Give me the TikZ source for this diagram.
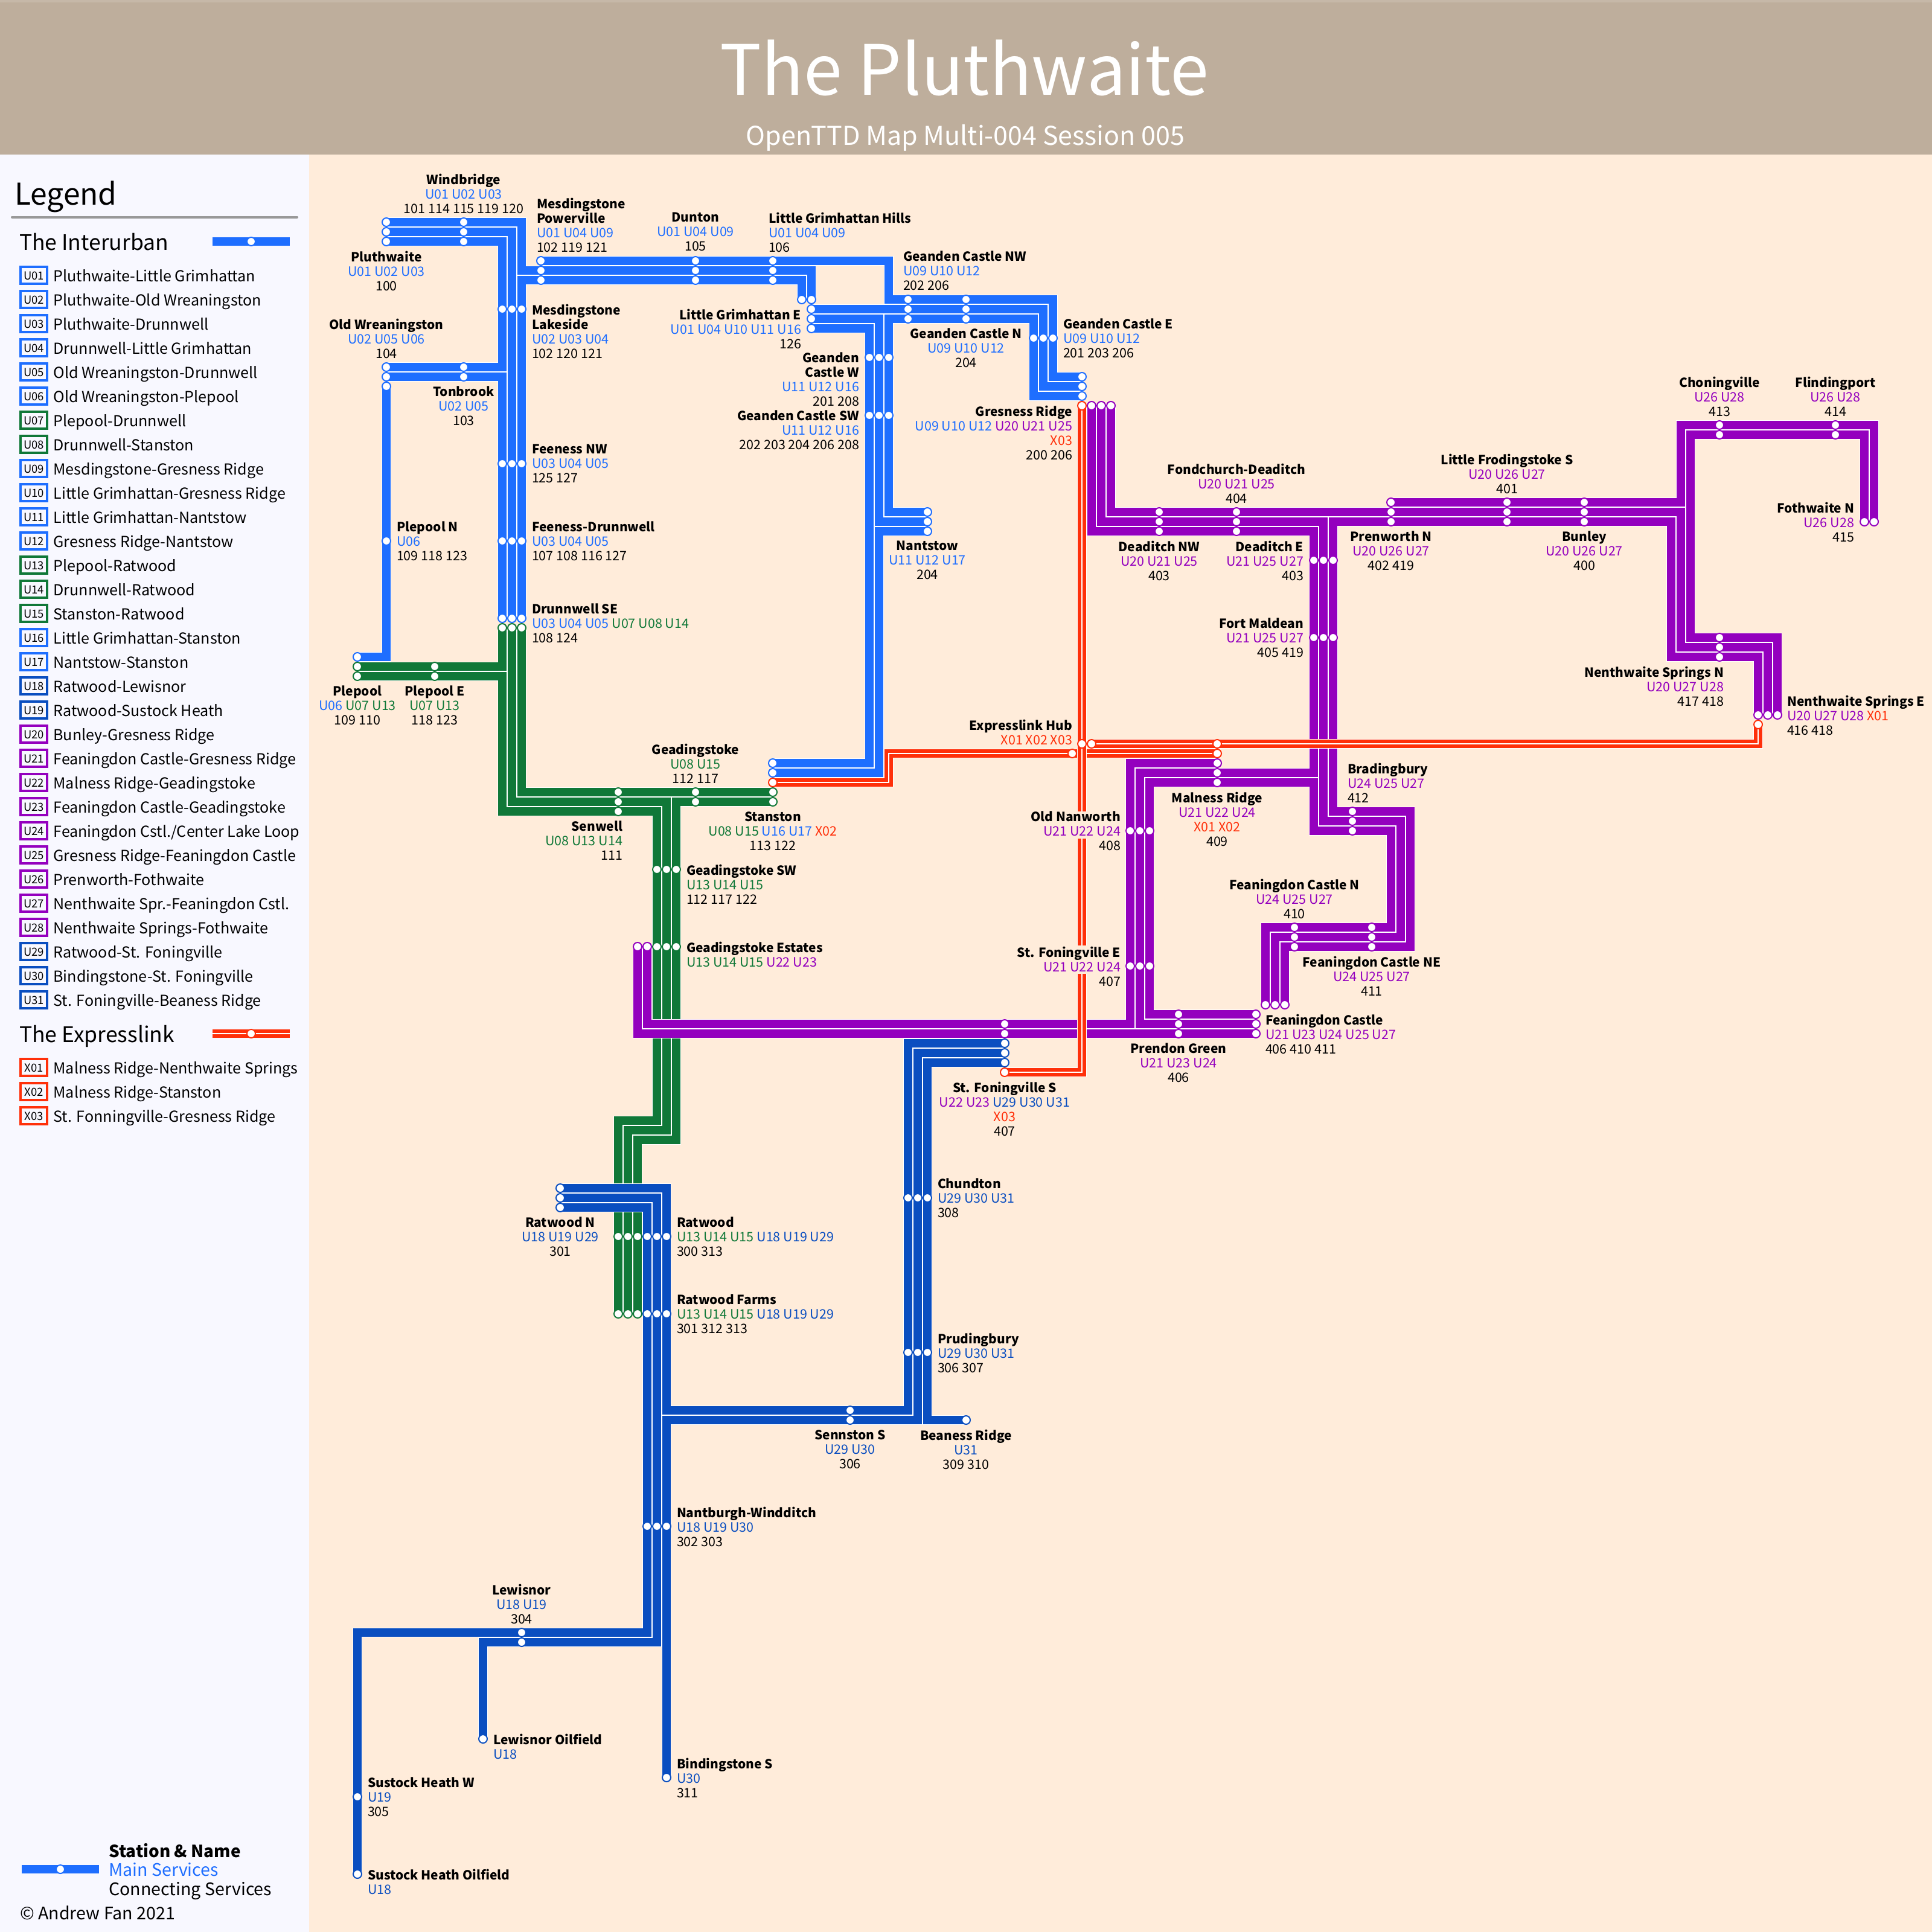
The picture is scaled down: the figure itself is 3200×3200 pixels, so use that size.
\documentclass[tikz,border=0pt]{standalone}
\usepackage{fontspec}
\setmainfont{Noto Sans CJK SC}
\usetikzlibrary{calc}
\definecolor{cblue}{RGB}{30,110,255}
\definecolor{cgreen}{RGB}{16,120,56}
\definecolor{cdeep}{RGB}{10,78,192}
\definecolor{cpurple}{RGB}{148,0,190}
\definecolor{cred}{RGB}{255,48,10}
\definecolor{mapbg}{RGB}{255,236,218}
\definecolor{panelbg}{RGB}{248,248,255}
\definecolor{headbg}{RGB}{190,174,156}
\definecolor{headtop}{RGB}{198,184,168}
\definecolor{rulegrey}{RGB}{153,153,153}
\pgfdeclarelayer{base}\pgfdeclarelayer{tracks}
\pgfsetlayers{base,tracks,main}
\newcommand{\sx}{\vrule width 0pt height 18pt depth 6pt\relax}
\newcommand{\nm}[1]{{\fontsize{20.9}{24}\selectfont\bfseries #1}}
\newcommand{\lblue}[1]{{\color{cblue}#1}}
\newcommand{\lgreen}[1]{{\color{cgreen}#1}}
\newcommand{\ldeep}[1]{{\color{cdeep}#1}}
\newcommand{\lpurple}[1]{{\color{cpurple}#1}}
\newcommand{\lred}[1]{{\color{cred}#1}}
\tikzset{
  labbase/.style={inner sep=0pt,outer sep=0pt,font=\fontsize{21.5}{24}\selectfont,execute at begin node={\sx},execute at end node={\sx}},
  labL/.style={labbase,anchor=north west,align=left},
  labC/.style={labbase,anchor=north,align=center},
  labR/.style={labbase,anchor=north east,align=right},
  stn/.style={circle,fill=white,line width=2pt,minimum size=14pt,inner sep=0pt,outer sep=0pt},
  casing/.style={draw=white,line width=16pt,line cap=butt,line join=miter},
  trackline/.style={line width=14pt,line cap=butt,line join=miter},
  centreline/.style={draw=white,line width=2pt,line cap=butt,line join=miter},
  legitem/.style={inner sep=0pt,outer sep=0pt,anchor=base west,font=\fontsize{25.1}{28}\selectfont},
  legbox/.style={rectangle,fill=panelbg,line width=4pt,minimum width=44pt,minimum height=28pt,inner sep=0pt,outer sep=0pt,anchor=center},
  legboxtext/.style={inner sep=0pt,outer sep=0pt,anchor=base,font=\fontsize{18.5}{20}\selectfont},
  leghead/.style={inner sep=0pt,outer sep=0pt,anchor=base west,font=\fontsize{35.5}{40}\selectfont},
}
\newcommand{\st}[4]{\node[stn,draw=#4] (#1) at (#2,#3) {};}
\newcommand{\trk}[2]{\draw[casing] #2; \draw[trackline,draw=#1] #2;}
\newcommand{\xtrk}[1]{\draw[casing] #1; \draw[trackline,draw=cred] #1; \draw[centreline] #1;}
\newcommand{\lab}[5]{\node[lab#2] (#1) at (#3,{#4-16.8}) {#5};}
\begin{document}
\begin{tikzpicture}[x=1pt,y=-1pt]
\useasboundingbox (0,0) rectangle (3200,3200);
\begin{pgfonlayer}{base}
\fill[mapbg] (0,0) rectangle (3200,3200);
\fill[panelbg] (0,256) rectangle (512,3200);
\fill[headbg] (0,0) rectangle (3200,256);
\fill[headtop] (0,0) rectangle (3200,4);
\end{pgfonlayer}
% header
\node[inner sep=0pt,anchor=base,text=white,font=\fontsize{115}{120}\selectfont] (title) at (1597,158) {The Pluthwaite};
\node[inner sep=0pt,anchor=base,text=white,font=\fontsize{43}{48}\selectfont] (subtitle) at (1599,241) {OpenTTD Map Multi-004 Session 005};
% legend
\node[inner sep=0pt,anchor=base west,font=\fontsize{49.8}{56}\selectfont] (legendtitle) at (24,339) {Legend};
\coordinate (rulea) at (20,359.5); \coordinate (ruleb) at (492,359.5);
\draw[rulegrey,line width=4pt,line cap=round] (rulea) -- (ruleb);
\node[leghead] (interurban) at (32,414) {The Interurban};
\coordinate (ia) at (352,400); \coordinate (ib) at (480,400);
\draw[trackline,draw=cblue] (ia) -- (ib);
\st{ist}{416}{400}{cblue}
\foreach \i/\c/\t [count=\n from 0] in {
U01/cblue/Pluthwaite-Little Grimhattan,U02/cblue/Pluthwaite-Old Wreaningston,U03/cblue/Pluthwaite-Drunnwell,U04/cblue/Drunnwell-Little Grimhattan,U05/cblue/Old Wreaningston-Drunnwell,U06/cblue/Old Wreaningston-Plepool,U07/cgreen/Plepool-Drunnwell,U08/cgreen/Drunnwell-Stanston,U09/cblue/Mesdingstone-Gresness Ridge,U10/cblue/Little Grimhattan-Gresness Ridge,U11/cblue/Little Grimhattan-Nantstow,U12/cblue/Gresness Ridge-Nantstow,U13/cgreen/Plepool-Ratwood,U14/cgreen/Drunnwell-Ratwood,U15/cgreen/Stanston-Ratwood,U16/cblue/Little Grimhattan-Stanston,U17/cblue/Nantstow-Stanston,U18/cdeep/Ratwood-Lewisnor,U19/cdeep/Ratwood-Sustock Heath,U20/cpurple/Bunley-Gresness Ridge,U21/cpurple/Feaningdon Castle-Gresness Ridge,U22/cpurple/Malness Ridge-Geadingstoke,U23/cpurple/Feaningdon Castle-Geadingstoke,U24/cpurple/{Feaningdon Cstl.{/}Center Lake Loop},U25/cpurple/Gresness Ridge-Feaningdon Castle,U26/cpurple/Prenworth-Fothwaite,U27/cpurple/Nenthwaite Spr.-Feaningdon Cstl.,U28/cpurple/Nenthwaite Springs-Fothwaite,U29/cdeep/Ratwood-St. Foningville,U30/cdeep/Bindingstone-St. Foningville,U31/cdeep/St. Foningville-Beaness Ridge}{
  \pgfmathsetmacro{\yy}{456+40*\n}
  \node[legbox,draw=\c] (box\i) at (56,\yy) {};
  \node[legboxtext] (boxt\i) at (56,\yy+7) {\i};
  \node[legitem] (item\i) at (88.5,\yy+10.5) {\t};
}
\node[leghead] (expresslink) at (32,1726) {The Expresslink};
\coordinate (xa) at (352,1712); \coordinate (xb) at (480,1712);
\draw[trackline,draw=cred] (xa) -- (xb); \draw[centreline] (xa) -- (xb);
\st{xst}{416}{1712}{cred}
\foreach \i/\t [count=\n from 0] in {X01/Malness Ridge-Nenthwaite Springs,X02/Malness Ridge-Stanston,X03/St. Fonningville-Gresness Ridge}{
  \pgfmathsetmacro{\yy}{1768+40*\n}
  \node[legbox,draw=cred] (box\i) at (56,\yy) {};
  \node[legboxtext] (boxt\i) at (56,\yy+7) {\i};
  \node[legitem] (item\i) at (88.5,\yy+10.5) {\t};
}
\coordinate (ka) at (36,3096); \coordinate (kb) at (164,3096);
\draw[trackline,draw=cblue] (ka) -- (kb);
\st{kst}{100}{3096}{cblue}
\node[inner sep=0pt,anchor=base west,font=\fontsize{27.8}{32}\selectfont\bfseries] (keyname) at (180,3076) {Station \& Name};
\node[inner sep=0pt,anchor=base west,text=cblue,font=\fontsize{28.6}{32}\selectfont] (keymain) at (180,3107) {Main Services};
\node[inner sep=0pt,anchor=base west,font=\fontsize{28.6}{32}\selectfont] (keyconn) at (180,3139) {Connecting Services};
\node[inner sep=0pt,anchor=base west,font=\fontsize{28.6}{32}\selectfont] (copyr) at (33,3179) {© Andrew Fan 2021};
% stations: blue
\st{pla}{640}{368}{cblue}\st{plb}{640}{384}{cblue}\st{plc}{640}{400}{cblue}
\st{wia}{768}{368}{cblue}\st{wib}{768}{384}{cblue}\st{wic}{768}{400}{cblue}
\st{mla}{832}{512}{cblue}\st{mlb}{848}{512}{cblue}\st{mlc}{864}{512}{cblue}
\st{fna}{832}{768}{cblue}\st{fnb}{848}{768}{cblue}\st{fnc}{864}{768}{cblue}
\st{fda}{832}{896}{cblue}\st{fdb}{848}{896}{cblue}\st{fdc}{864}{896}{cblue}
\st{dsa}{832}{1024}{cblue}\st{dsb}{848}{1024}{cblue}\st{dsc}{864}{1024}{cblue}
\st{dga}{832}{1040}{cgreen}\st{dgb}{848}{1040}{cgreen}\st{dgc}{864}{1040}{cgreen}
\st{owa}{640}{608}{cblue}\st{owb}{640}{624}{cblue}\st{owc}{640}{640}{cblue}
\st{tba}{768}{608}{cblue}\st{tbb}{768}{624}{cblue}
\st{pnn}{640}{896}{cblue}
\st{ppa}{592}{1088}{cblue}\st{ppb}{592}{1104}{cgreen}\st{ppc}{592}{1120}{cgreen}
\st{pea}{720}{1104}{cgreen}\st{peb}{720}{1120}{cgreen}
\st{mpa}{896}{432}{cblue}\st{mpb}{896}{448}{cblue}\st{mpc}{896}{464}{cblue}
\st{dua}{1152}{432}{cblue}\st{dub}{1152}{448}{cblue}\st{duc}{1152}{464}{cblue}
\st{lha}{1280}{432}{cblue}\st{lhb}{1280}{448}{cblue}\st{lhc}{1280}{464}{cblue}
\st{lea}{1328}{496}{cblue}\st{leb}{1344}{496}{cblue}\st{lec}{1344}{512}{cblue}\st{led}{1344}{528}{cblue}\st{lee}{1344}{544}{cblue}
\st{nwa}{1504}{496}{cblue}\st{nwb}{1504}{512}{cblue}\st{nwc}{1504}{528}{cblue}
\st{gna}{1600}{496}{cblue}\st{gnb}{1600}{512}{cblue}\st{gnc}{1600}{528}{cblue}
\st{gea}{1712}{560}{cblue}\st{geb}{1728}{560}{cblue}\st{gec}{1744}{560}{cblue}
\st{gra}{1792}{624}{cblue}\st{grb}{1792}{640}{cblue}\st{grc}{1792}{656}{cblue}
\st{grd}{1792}{672}{cred}\st{gre}{1808}{672}{cpurple}\st{grf}{1824}{672}{cpurple}\st{grg}{1840}{672}{cpurple}
\st{gwa}{1440}{592}{cblue}\st{gwb}{1456}{592}{cblue}\st{gwc}{1472}{592}{cblue}
\st{gsa}{1440}{688}{cblue}\st{gsb}{1456}{688}{cblue}\st{gsc}{1472}{688}{cblue}
\st{naa}{1536}{848}{cblue}\st{nab}{1536}{864}{cblue}\st{nac}{1536}{880}{cblue}
% Stanston / Geadingstoke / Senwell
\st{ssa}{1280}{1264}{cblue}\st{ssb}{1280}{1280}{cblue}\st{ssc}{1280}{1296}{cred}\st{ssd}{1280}{1312}{cgreen}\st{sse}{1280}{1328}{cgreen}
\st{gka}{1152}{1312}{cgreen}\st{gkb}{1152}{1328}{cgreen}
\st{swa}{1024}{1312}{cgreen}\st{swb}{1024}{1328}{cgreen}\st{swc}{1024}{1344}{cgreen}
\st{gwsa}{1088}{1440}{cgreen}\st{gwsb}{1104}{1440}{cgreen}\st{gwsc}{1120}{1440}{cgreen}
\st{gpa}{1056}{1568}{cpurple}\st{gpb}{1072}{1568}{cpurple}\st{gpc}{1088}{1568}{cgreen}\st{gpd}{1104}{1568}{cgreen}\st{gpe}{1120}{1568}{cgreen}
% purple
\st{dna}{1920}{848}{cpurple}\st{dnb}{1920}{864}{cpurple}\st{dnc}{1920}{880}{cpurple}
\st{fca}{2048}{848}{cpurple}\st{fcb}{2048}{864}{cpurple}\st{fcc}{2048}{880}{cpurple}
\st{dea}{2176}{928}{cpurple}\st{deb}{2192}{928}{cpurple}\st{dec}{2208}{928}{cpurple}
\st{fma}{2176}{1056}{cpurple}\st{fmb}{2192}{1056}{cpurple}\st{fmc}{2208}{1056}{cpurple}
\st{pra}{2304}{832}{cpurple}\st{prb}{2304}{848}{cpurple}\st{prc}{2304}{864}{cpurple}
\st{lfa}{2496}{832}{cpurple}\st{lfb}{2496}{848}{cpurple}\st{lfc}{2496}{864}{cpurple}
\st{bua}{2624}{832}{cpurple}\st{bub}{2624}{848}{cpurple}\st{buc}{2624}{864}{cpurple}
\st{cha}{2848}{704}{cpurple}\st{chb}{2848}{720}{cpurple}
\st{fla}{3040}{704}{cpurple}\st{flb}{3040}{720}{cpurple}
\st{foa}{3088}{864}{cpurple}\st{fob}{3104}{864}{cpurple}
\st{nna}{2848}{1056}{cpurple}\st{nnb}{2848}{1072}{cpurple}\st{nnc}{2848}{1088}{cpurple}
\st{nea}{2912}{1184}{cpurple}\st{neb}{2928}{1184}{cpurple}\st{nec}{2944}{1184}{cpurple}\st{ned}{2912}{1200}{cred}
\st{eha}{1776}{1248}{cred}\st{ehb}{1792}{1232}{cred}\st{ehc}{1808}{1232}{cred}
\st{mra}{2016}{1232}{cred}\st{mrb}{2016}{1248}{cred}\st{mrc}{2016}{1264}{cpurple}\st{mrd}{2016}{1280}{cpurple}\st{mre}{2016}{1296}{cpurple}
\st{bra}{2240}{1344}{cpurple}\st{brb}{2240}{1360}{cpurple}\st{brc}{2240}{1376}{cpurple}
\st{ona}{1872}{1376}{cpurple}\st{onb}{1888}{1376}{cpurple}\st{onc}{1904}{1376}{cpurple}
\st{sea}{1872}{1600}{cpurple}\st{seb}{1888}{1600}{cpurple}\st{sec}{1904}{1600}{cpurple}
\st{pga}{1952}{1680}{cpurple}\st{pgb}{1952}{1696}{cpurple}\st{pgc}{1952}{1712}{cpurple}
\st{fea}{2080}{1680}{cpurple}\st{feb}{2080}{1696}{cpurple}\st{fec}{2080}{1712}{cpurple}
\st{fta}{2096}{1664}{cpurple}\st{ftb}{2112}{1664}{cpurple}\st{ftc}{2128}{1664}{cpurple}
\st{fna2}{2144}{1536}{cpurple}\st{fnb2}{2144}{1552}{cpurple}\st{fnc2}{2144}{1568}{cpurple}
\st{fra}{2272}{1536}{cpurple}\st{frb}{2272}{1552}{cpurple}\st{frc}{2272}{1568}{cpurple}
\st{fsa}{1664}{1696}{cpurple}\st{fsb}{1664}{1712}{cpurple}\st{fsc}{1664}{1728}{cdeep}\st{fsd}{1664}{1744}{cdeep}\st{fse}{1664}{1760}{cdeep}\st{fsf}{1664}{1776}{cred}
% deep blue
\st{rna}{928}{1968}{cdeep}\st{rnb}{928}{1984}{cdeep}\st{rnc}{928}{2000}{cdeep}
\st{rwa}{1024}{2048}{cgreen}\st{rwb}{1040}{2048}{cgreen}\st{rwc}{1056}{2048}{cgreen}\st{rwd}{1072}{2048}{cdeep}\st{rwe}{1088}{2048}{cdeep}\st{rwf}{1104}{2048}{cdeep}
\st{rfa}{1024}{2176}{cgreen}\st{rfb}{1040}{2176}{cgreen}\st{rfc}{1056}{2176}{cgreen}\st{rfd}{1072}{2176}{cdeep}\st{rfe}{1088}{2176}{cdeep}\st{rff}{1104}{2176}{cdeep}
\st{cua}{1504}{1984}{cdeep}\st{cub}{1520}{1984}{cdeep}\st{cuc}{1536}{1984}{cdeep}
\st{pua}{1504}{2240}{cdeep}\st{pub}{1520}{2240}{cdeep}\st{puc}{1536}{2240}{cdeep}
\st{sna}{1408}{2336}{cdeep}\st{snb}{1408}{2352}{cdeep}
\st{ber}{1600}{2352}{cdeep}
\st{nwda}{1072}{2528}{cdeep}\st{nwdb}{1088}{2528}{cdeep}\st{nwdc}{1104}{2528}{cdeep}
\st{bis}{1104}{2944}{cdeep}
\st{lwa}{864}{2704}{cdeep}\st{lwb}{864}{2720}{cdeep}
\st{lwo}{800}{2880}{cdeep}
\st{shw}{592}{2976}{cdeep}\st{sho}{592}{3104}{cdeep}
% tracks
\begin{pgfonlayer}{tracks}
% green
\trk{cgreen}{(dga.center) -- (832,1104) -- (ppb.center)}
\trk{cgreen}{(ppc.center) -- (832,1120) -- (832,1344) -- (1088,1344) -- (1088,1856) -- (1024,1856) -- (rfa.center)}
\trk{cgreen}{(dgb.center) -- (848,1328) -- (1104,1328) -- (1104,1872) -- (1040,1872) -- (rfb.center)}
\trk{cgreen}{(dgc.center) -- (864,1312) -- (ssd.center)}
\trk{cgreen}{(sse.center) -- (1120,1328) -- (1120,1888) -- (1056,1888) -- (rfc.center)}
% blue
\trk{cblue}{(pla.center) -- (864,368) -- (864,448) -- (1344,448) -- (leb.center)}
\trk{cblue}{(plb.center) -- (848,384) -- (dsb.center)}
\trk{cblue}{(plc.center) -- (832,400) -- (832,608) -- (owa.center)}
\trk{cblue}{(owb.center) -- (832,624) -- (dsa.center)}
\trk{cblue}{(dsc.center) -- (864,464) -- (1328,464) -- (lea.center)}
\trk{cblue}{(owc.center) -- (640,1088) -- (ppa.center)}
\trk{cblue}{(mpa.center) -- (1472,432) -- (1472,496) -- (1744,496) -- (1744,624) -- (gra.center)}
\trk{cblue}{(lec.center) -- (1728,512) -- (1728,640) -- (grb.center)}
\trk{cblue}{(naa.center) -- (1472,848) -- (1472,528) -- (1712,528) -- (1712,656) -- (grc.center)}
\trk{cblue}{(nab.center) -- (1456,864) -- (1456,528) -- (led.center)}
\trk{cblue}{(nac.center) -- (1456,880) -- (1456,1280) -- (ssb.center)}
\trk{cblue}{(lee.center) -- (1440,544) -- (1440,1264) -- (ssa.center)}
% deep blue
\trk{cdeep}{(rna.center) -- (1104,1968) -- (1104,2336) -- (1504,2336) -- (1504,1728) -- (fsc.center)}
\trk{cdeep}{(fsd.center) -- (1520,1744) -- (1520,2352) -- (1104,2352) -- (bis.center)}
\trk{cdeep}{(fse.center) -- (1536,1760) -- (1536,2352) -- (ber.center)}
\trk{cdeep}{(rnb.center) -- (1088,1984) -- (1088,2720) -- (800,2720) -- (lwo.center)}
\trk{cdeep}{(rnc.center) -- (1072,2000) -- (1072,2704) -- (592,2704) -- (sho.center)}
% purple
\trk{cpurple}{(grg.center) -- (1840,848) -- (2784,848) -- (2784,1072) -- (2928,1072) -- (neb.center)}
\trk{cpurple}{(grf.center) -- (1824,864) -- (2192,864) -- (2192,1360) -- (2320,1360) -- (2320,1552) -- (2112,1552) -- (ftb.center)}
\trk{cpurple}{(gre.center) -- (1808,880) -- (2176,880) -- (2176,1280) -- (1888,1280) -- (1888,1696) -- (feb.center)}
\trk{cpurple}{(fea.center) -- (1904,1680) -- (1904,1296) -- (2176,1296) -- (2176,1376) -- (2304,1376) -- (2304,1536) -- (2096,1536) -- (fta.center)}
\trk{cpurple}{(nea.center) -- (2912,1088) -- (2768,1088) -- (2768,864) -- (2208,864) -- (2208,1344) -- (2336,1344) -- (2336,1568) -- (2128,1568) -- (ftc.center)}
\trk{cpurple}{(pra.center) -- (2784,832) -- (2784,704) -- (3104,704) -- (fob.center)}
\trk{cpurple}{(nec.center) -- (2944,1056) -- (2800,1056) -- (2800,720) -- (3088,720) -- (foa.center)}
\trk{cpurple}{(gpb.center) -- (1072,1696) -- (1872,1696) -- (1872,1264) -- (mrc.center)}
\trk{cpurple}{(gpa.center) -- (1056,1712) -- (fec.center)}
% red
\xtrk{(ssc.center) -- (1472,1296) -- (1472,1248) -- (mrb.center)}
\xtrk{(ehc.center) -- (2912,1232) -- (ned.center)}
\xtrk{(grd.center) -- (1792,1776) -- (fsf.center)}
\fill[mapbg] (1783,1344) rectangle (1801,1389);
\fill[mapbg] (1783,1566) rectangle (1801,1613);
\end{pgfonlayer}
% labels
\lab{lwi}{C}{768}{305}{\nm{Windbridge}\\\lblue{U01 U02 U03}\\101 114 115 119 120}
\lab{lmp}{L}{889}{344.5}{\nm{Mesdingstone}\\\nm{Powerville}\\\lblue{U01 U04 U09}\\102 119 121}
\lab{ldu}{C}{1152}{368.5}{\nm{Dunton}\\\lblue{U01 U04 U09}\\105}
\lab{llh}{L}{1273}{368.5}{\nm{Little Grimhattan Hills}\\\lblue{U01 U04 U09}\\106}
\lab{lpl}{C}{640}{433}{\nm{Pluthwaite}\\\lblue{U01 U02 U03}\\100}
\lab{low}{C}{640}{545}{\nm{Old Wreaningston}\\\lblue{U02 U05 U06}\\104}
\lab{ltb}{C}{768}{657}{\nm{Tonbrook}\\\lblue{U02 U05}\\103}
\lab{lml}{L}{881}{521}{\nm{Mesdingstone}\\\nm{Lakeside}\\\lblue{U02 U03 U04}\\102 120 121}
\lab{lfn}{L}{881}{753}{\nm{Feeness NW}\\\lblue{U03 U04 U05}\\125 127}
\lab{lfd}{L}{881}{881}{\nm{Feeness-Drunnwell}\\\lblue{U03 U04 U05}\\107 108 116 127}
\lab{lds}{L}{881}{1017}{\nm{Drunnwell SE}\\\lblue{U03 U04 U05} \lgreen{U07 U08 U14}\\108 124}
\lab{lpn}{L}{657}{881}{\nm{Plepool N}\\\lblue{U06}\\109 118 123}
\lab{lle}{R}{1327}{529}{\nm{Little Grimhattan E}\\\lblue{U01 U04 U10 U11 U16}\\126}
\lab{lgw}{R}{1423}{601}{\nm{Geanden}\\\nm{Castle W}\\\lblue{U11 U12 U16}\\201 208}
\lab{lgs}{R}{1423}{697}{\nm{Geanden Castle SW}\\\lblue{U11 U12 U16}\\202 203 204 206 208}
\lab{lnw}{L}{1496}{433}{\nm{Geanden Castle NW}\\\lblue{U09 U10 U12}\\202 206}
\lab{lgn}{C}{1600}{561}{\nm{Geanden Castle N}\\\lblue{U09 U10 U12}\\204}
\lab{lge}{L}{1761}{545}{\nm{Geanden Castle E}\\\lblue{U09 U10 U12}\\201 203 206}
\lab{lgr}{R}{1776}{689}{\nm{Gresness Ridge}\\\lblue{U09 U10 U12} \lpurple{U20 U21 U25}\\\lred{X03}\\200 206}
\lab{lna}{C}{1536}{913}{\nm{Nantstow}\\\lblue{U11 U12 U17}\\204}
\lab{ldn}{C}{1920}{913}{\nm{Deaditch NW}\\\lpurple{U20 U21 U25}\\403}
\lab{lfc}{C}{2048}{785}{\nm{Fondchurch-Deaditch}\\\lpurple{U20 U21 U25}\\404}
\lab{lde}{R}{2159}{913}{\nm{Deaditch E}\\\lpurple{U21 U25 U27}\\403}
\lab{lfm}{R}{2159}{1041}{\nm{Fort Maldean}\\\lpurple{U21 U25 U27}\\405 419}
\lab{lpr}{C}{2304}{897}{\nm{Prenworth N}\\\lpurple{U20 U26 U27}\\402 419}
\lab{lbu}{C}{2624}{897}{\nm{Bunley}\\\lpurple{U20 U26 U27}\\400}
\lab{llf}{C}{2496}{769}{\nm{Little Frodingstoke S}\\\lpurple{U20 U26 U27}\\401}
\lab{lch}{C}{2848}{641}{\nm{Choningville}\\\lpurple{U26 U28}\\413}
\lab{lfl}{C}{3040}{641}{\nm{Flindingport}\\\lpurple{U26 U28}\\414}
\lab{lfo}{R}{3071}{849}{\nm{Fothwaite N}\\\lpurple{U26 U28}\\415}
\lab{lnn}{R}{2855}{1121}{\nm{Nenthwaite Springs N}\\\lpurple{U20 U27 U28}\\417 418}
\lab{lne}{L}{2960}{1169}{\nm{Nenthwaite Springs E}\\\lpurple{U20 U27 U28} \lred{X01}\\416 418}
\lab{lbr}{L}{2232}{1281}{\nm{Bradingbury}\\\lpurple{U24 U25 U27}\\412}
\lab{leh}{R}{1776}{1209}{\nm{Expresslink Hub}\\\lred{X01 X02 X03}}
\lab{lmr}{C}{2016}{1329}{\nm{Malness Ridge}\\\lpurple{U21 U22 U24}\\\lred{X01 X02}\\409}
\lab{lon}{R}{1856}{1361}{\nm{Old Nanworth}\\\lpurple{U21 U22 U24}\\408}
\lab{lse}{R}{1856}{1585}{\nm{St. Foningville E}\\\lpurple{U21 U22 U24}\\407}
\lab{lcn}{C}{2144}{1473}{\nm{Feaningdon Castle N}\\\lpurple{U24 U25 U27}\\410}
\lab{lcr}{C}{2272}{1601}{\nm{Feaningdon Castle NE}\\\lpurple{U24 U25 U27}\\411}
\lab{lfe}{L}{2096}{1697}{\nm{Feaningdon Castle}\\\lpurple{U21 U23 U24 U25 U27}\\406 410 411}
\lab{lpg}{C}{1952}{1745}{\nm{Prendon Green}\\\lpurple{U21 U23 U24}\\406}
\lab{lfs}{C}{1664}{1809}{\nm{St. Foningville S}\\\lpurple{U22 U23} \ldeep{U29 U30 U31}\\\lred{X03}\\407}
\lab{lgk}{C}{1152}{1249}{\nm{Geadingstoke}\\\lgreen{U08 U15}\\112 117}
\lab{lss}{C}{1280}{1361}{\nm{Stanston}\\\lgreen{U08 U15} \lblue{U16 U17} \lred{X02}\\113 122}
\lab{lsw}{R}{1031}{1377}{\nm{Senwell}\\\lgreen{U08 U13 U14}\\111}
\lab{lgws}{L}{1137}{1449}{\nm{Geadingstoke SW}\\\lgreen{U13 U14 U15}\\112 117 122}
\lab{lgp}{L}{1137}{1577}{\nm{Geadingstoke Estates}\\\lgreen{U13 U14 U15} \lpurple{U22 U23}}
\lab{lrw}{L}{1121}{2033}{\nm{Ratwood}\\\lgreen{U13 U14 U15} \ldeep{U18 U19 U29}\\300 313}
\lab{lrf}{L}{1121}{2161}{\nm{Ratwood Farms}\\\lgreen{U13 U14 U15} \ldeep{U18 U19 U29}\\301 312 313}
\lab{lrn}{C}{928}{2033}{\nm{Ratwood N}\\\ldeep{U18 U19 U29}\\301}
\lab{lcu}{L}{1553}{1969}{\nm{Chundton}\\\ldeep{U29 U30 U31}\\308}
\lab{lpu}{L}{1553}{2225}{\nm{Prudingbury}\\\ldeep{U29 U30 U31}\\306 307}
\lab{lsn}{C}{1408}{2385}{\nm{Sennston S}\\\ldeep{U29 U30}\\306}
\lab{lbe}{C}{1600}{2385}{\nm{Beaness Ridge}\\\ldeep{U31}\\309 310}
\lab{lnb}{L}{1121}{2513}{\nm{Nantburgh-Windditch}\\\ldeep{U18 U19 U30}\\302 303}
\lab{lbi}{L}{1121}{2929}{\nm{Bindingstone S}\\\ldeep{U30}\\311}
\lab{llw}{C}{864}{2641}{\nm{Lewisnor}\\\ldeep{U18 U19}\\304}
\lab{llo}{L}{817}{2889}{\nm{Lewisnor Oilfield}\\\ldeep{U18}}
\lab{lsh}{L}{609}{2961}{\nm{Sustock Heath W}\\\ldeep{U19}\\305}
\lab{lso}{L}{609}{3113}{\nm{Sustock Heath Oilfield}\\\ldeep{U18}}
\lab{lpp}{C}{592}{1153}{\nm{Plepool}\\\lblue{U06} \lgreen{U07 U13}\\109 110}
\lab{lpe}{C}{720}{1153}{\nm{Plepool E}\\\lgreen{U07 U13}\\118 123}
\end{tikzpicture}
\end{document}
